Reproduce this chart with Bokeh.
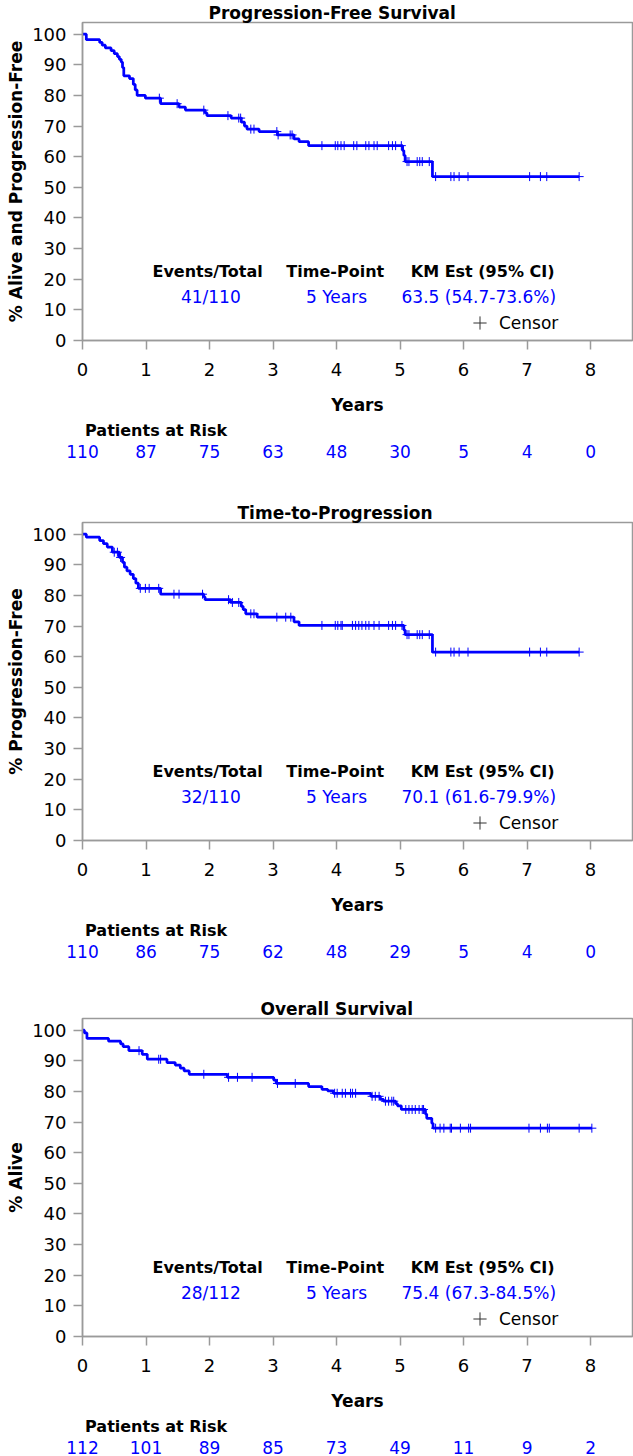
from bokeh.plotting import figure
from bokeh.models import Range1d, Label, Legend, LegendItem, FixedTicker
from bokeh.layouts import column
from bokeh.embed import file_html
from bokeh.resources import INLINE
from bokeh.core.properties import value
import numpy as np

# ---------------- data ----------------
risk_years = [0, 1, 2, 3, 4, 5, 6, 7, 8]
y_ticks = [0, 10, 20, 30, 40, 50, 60, 70, 80, 90, 100]
stat_headers = ["Events/Total", "Time-Point", "KM Est (95% CI)"]

# Progression-Free Survival
pfs_times = [0.06, 0.27, 0.31, 0.36, 0.45, 0.50, 0.55, 0.58, 0.61, 0.63, 0.65, 0.74,
             0.80, 0.83, 0.86, 0.99, 1.23, 1.52, 1.62, 1.93, 1.96, 2.34, 2.50, 2.55,
             2.59, 2.78, 3.07, 3.33, 3.41, 3.56, 5.04, 5.06, 5.08, 5.51]
pfs_surv = [98.2, 97.3, 96.4, 95.5, 94.6, 93.6, 92.7, 91.8, 90.9, 89.1, 86.4, 85.5,
            83.6, 81.8, 80.0, 79.1, 77.3, 76.2, 75.2, 74.3, 73.4, 72.6, 71.3, 70.0,
            69.0, 68.2, 67.1, 65.8, 64.9, 63.6, 62.0, 60.4, 58.4, 53.5]
pfs_censor = [1.21, 1.49, 1.91, 2.29, 2.46, 2.49, 2.65, 2.70, 3.06, 3.08, 3.27, 3.30,
              3.77, 3.98, 4.02, 4.07, 4.12, 4.27, 4.32, 4.46, 4.51, 4.59, 4.64, 4.82,
              4.88, 4.93, 5.02, 5.11, 5.14, 5.27, 5.31, 5.35, 5.46, 5.56, 5.80, 5.85,
              5.93, 6.07, 7.04, 7.21, 7.31, 7.82]
pfs_risk = [110, 87, 75, 63, 48, 30, 5, 4, 0]
pfs_stats = ["41/110", "5 Years", "63.5 (54.7-73.6%)"]

# Time-to-Progression
ttp_times = [0.06, 0.27, 0.33, 0.39, 0.47, 0.58, 0.63, 0.66, 0.70, 0.75, 0.80, 0.84,
             0.88, 1.23, 1.91, 1.93, 2.33, 2.50, 2.53, 2.57, 2.75, 3.33, 3.41, 5.06,
             5.08, 5.51]
ttp_surv = [99.0, 97.9, 96.9, 95.8, 94.1, 92.4, 90.8, 89.2, 88.0, 86.9, 85.5, 84.0,
            82.3, 80.4, 79.5, 78.6, 77.7, 76.4, 75.4, 74.0, 72.9, 71.4, 70.2, 68.7,
            67.2, 61.5]
ttp_censor = [0.50, 0.55, 0.60, 0.91, 0.99, 1.05, 1.20, 1.44, 1.52, 1.89, 2.30, 2.36,
              2.46, 2.65, 2.70, 3.06, 3.20, 3.28, 3.77, 3.98, 4.02, 4.07, 4.09, 4.25,
              4.30, 4.35, 4.40, 4.46, 4.51, 4.59, 4.67, 4.82, 4.88, 4.93, 5.03, 5.11,
              5.14, 5.27, 5.31, 5.35, 5.46, 5.56, 5.80, 5.85, 5.93, 6.07, 7.04, 7.21,
              7.31, 7.82]
ttp_risk = [110, 86, 75, 62, 48, 29, 5, 4, 0]
ttp_stats = ["32/110", "5 Years", "70.1 (61.6-79.9%)"]

# Overall Survival
os_times = [0.03, 0.07, 0.41, 0.60, 0.64, 0.73, 0.94, 1.02, 1.33, 1.46, 1.54, 1.60,
            1.68, 2.28, 3.01, 3.05, 3.56, 3.77, 3.86, 3.95, 4.54, 4.69, 4.74, 4.93,
            4.96, 5.02, 5.40, 5.42, 5.50, 5.52]
os_surv = [99.1, 97.3, 96.4, 95.5, 94.6, 93.3, 92.1, 90.5, 89.4, 88.6, 87.6, 86.7,
           85.6, 84.6, 83.7, 82.6, 81.6, 80.7, 80.2, 79.4, 78.4, 77.4, 76.8, 76.0,
           75.3, 74.1, 72.6, 71.2, 69.6, 68.0]
os_censor = [0.89, 1.20, 1.23, 1.91, 2.30, 2.44, 2.67, 3.07, 3.35, 3.97, 4.01, 4.09,
             4.14, 4.22, 4.25, 4.30, 4.56, 4.61, 4.67, 4.77, 4.82, 4.87, 4.90, 5.09,
             5.14, 5.19, 5.24, 5.30, 5.35, 5.37, 5.56, 5.63, 5.69, 5.79, 5.81, 5.95,
             6.08, 6.11, 7.03, 7.21, 7.32, 7.35, 7.82, 8.02]
os_risk = [112, 101, 89, 85, 73, 49, 11, 9, 2]
os_stats = ["28/112", "5 Years", "75.4 (67.3-84.5%)"]

titles = ["Progression-Free Survival", "Time-to-Progression", "Overall Survival"]
ylabels = ["% Alive and Progression-Free", "% Progression-Free", "% Alive"]

# ---------------- style ----------------
FONT = "DejaVu Sans"
BLUE = "#0000ff"
GREY = "#9a9a9a"
XMAX = 8.66
YMAX = 103.8
W = 633
BL = 82
BR = 1
BT = 22
FH = 318
BB = 78
TITLE_OFFSETS = [126, 155, 178]
RISK_H = [82, 78, 42]


def make_panel(title, ylabel, times, surv, censor, risk, stats, risk_h, t_off):
    p = figure(width=W, height=BT + FH + BB, x_range=Range1d(0, XMAX),
               y_range=Range1d(0, YMAX), output_backend="svg", toolbar_location=None,
               min_border_left=BL, min_border_right=BR, min_border_top=BT,
               min_border_bottom=BB)
    p.title.text = title
    p.title.align = "left"
    p.title.offset = t_off
    p.title.standoff = 0
    p.title.text_font = FONT
    p.title.text_font_style = "bold"
    p.title.text_font_size = "17px"
    p.title.text_color = "black"
    p.outline_line_color = GREY
    p.outline_line_width = 1.5
    p.grid.visible = False

    for ax in (p.xaxis[0], p.yaxis[0]):
        ax.axis_line_color = GREY
        ax.axis_line_width = 1.5
        ax.major_tick_line_color = GREY
        ax.major_tick_line_width = 1.5
        ax.major_tick_out = 9
        ax.major_tick_in = 0
        ax.minor_tick_line_color = None
        ax.major_label_text_font = FONT
        ax.major_label_text_font_size = "18px"
        ax.major_label_text_color = "black"
        ax.axis_label_text_font = FONT
        ax.axis_label_text_font_style = "bold"
        ax.axis_label_text_font_size = "17px"
        ax.axis_label_text_color = "black"
    p.xaxis.ticker = FixedTicker(ticks=risk_years)
    p.yaxis.ticker = FixedTicker(ticks=y_ticks)
    p.xaxis.major_label_standoff = 13
    p.xaxis.axis_label = "Years"
    p.xaxis.axis_label_standoff = 16
    p.yaxis.major_label_standoff = 7
    p.yaxis.axis_label = ylabel
    p.yaxis.axis_label_standoff = 3

    xs = [0] + list(times) + [censor[-1]]
    ys = [100] + list(surv) + [surv[-1]]
    p.step(xs, ys, mode="after", line_color=BLUE, line_width=2.75)

    t_arr = np.array(times)
    s_arr = np.array(surv)
    idx = np.searchsorted(t_arr, np.array(censor), side="right") - 1
    cy = np.where(idx >= 0, s_arr[np.clip(idx, 0, None)], 100.0)
    p.scatter(censor, cy, marker="cross", size=9, line_color=BLUE, line_width=1)

    leg_r = p.scatter(x=[np.nan], y=[np.nan], marker="cross", size=13,
                      line_color="#333333", line_width=1)
    legend = Legend(items=[LegendItem(label="Censor", renderers=[leg_r])],
                    location=(381, 1), glyph_width=33, glyph_height=33,
                    label_standoff=3, padding=0, margin=0, border_line_color=None,
                    background_fill_alpha=0, label_text_font=FONT,
                    label_text_font_size="17px", label_text_color="black")
    p.add_layout(legend)

    # stats table
    hx = [1.97, 3.98, 6.30]
    vx = [2.02, 4.00, 6.24]
    for hxi, h in zip(hx, stat_headers):
        p.add_layout(Label(x=hxi, y=22.4, text=h, text_align="center",
                           text_baseline="middle", text_font=FONT,
                           text_font_style="bold", text_font_size="16px",
                           text_color="black"))
    for vxi, v in zip(vx, stats):
        p.add_layout(Label(x=vxi, y=14.2, text=v, text_align="center",
                           text_baseline="middle", text_font=FONT,
                           text_font_size="17px", text_color=BLUE))

    # risk table (numbers are tick labels of a shared x axis)
    fh = 25
    r = figure(width=W, height=risk_h, x_range=p.x_range, y_range=Range1d(0, fh),
               output_backend="svg", toolbar_location=None, min_border_left=BL,
               min_border_right=BR, min_border_top=0, min_border_bottom=risk_h - fh,
               y_axis_location=None, x_axis_location="below")
    r.outline_line_color = None
    r.grid.visible = False
    ax = r.xaxis[0]
    ax.ticker = FixedTicker(ticks=risk_years)
    ax.major_label_overrides = {yr: str(n) for yr, n in zip(risk_years, risk)}
    ax.axis_line_color = None
    ax.major_tick_line_color = None
    ax.minor_tick_line_color = None
    ax.major_tick_out = 0
    ax.major_tick_in = 0
    ax.major_label_standoff = 1
    ax.major_label_text_font = FONT
    ax.major_label_text_font_size = "17px"
    ax.major_label_text_color = BLUE
    r.text(x=[0.04], y=[13], text=["Patients at Risk"], text_align="left",
           text_baseline="middle", text_color="black", text_font=value(FONT),
           text_font_style="bold", text_font_size="16px")
    return [p, r]


children = []
children += make_panel(titles[0], ylabels[0], pfs_times, pfs_surv, pfs_censor,
                       pfs_risk, pfs_stats, RISK_H[0], TITLE_OFFSETS[0])
children += make_panel(titles[1], ylabels[1], ttp_times, ttp_surv, ttp_censor,
                       ttp_risk, ttp_stats, RISK_H[1], TITLE_OFFSETS[1])
children += make_panel(titles[2], ylabels[2], os_times, os_surv, os_censor,
                       os_risk, os_stats, RISK_H[2], TITLE_OFFSETS[2])

layout = column(*children, spacing=0)
open("out.html", "w").write(file_html(layout, INLINE))
